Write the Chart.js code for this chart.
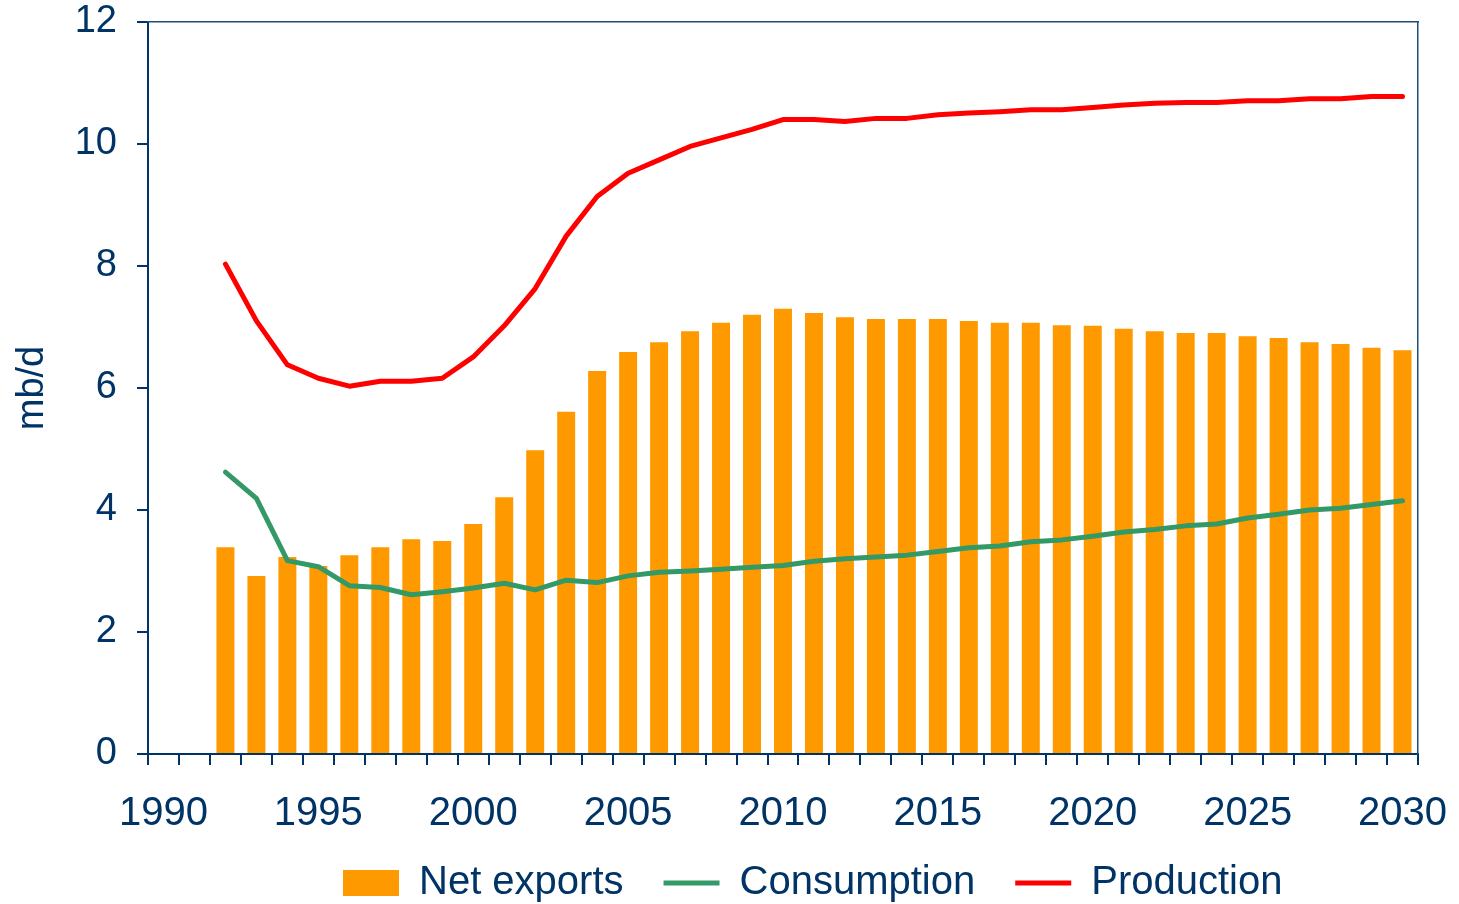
<!DOCTYPE html>
<html>
<head>
<meta charset="utf-8">
<title>Net exports, consumption and production</title>
<script src="https://cdn.jsdelivr.net/npm/chart.js@4.4.1/dist/chart.umd.min.js"></script>
<style>
  html, body { margin: 0; padding: 0; background: #fff; }
  #wrap { width: 1459px; height: 904px; position: relative; }
</style>
</head>
<body>
<div id="wrap"><canvas id="mainChart"></canvas></div>
<script>
// ---- data (mb/d) ----
const years = ['1990','1991','1992','1993','1994','1995','1996','1997','1998','1999',
               '2000','2001','2002','2003','2004','2005','2006','2007','2008','2009',
               '2010','2011','2012','2013','2014','2015','2016','2017','2018','2019',
               '2020','2021','2022','2023','2024','2025','2026','2027','2028','2029','2030'];
const shownYears = ['1990','1995','2000','2005','2010','2015','2020','2025','2030'];
const firstDataYear = '1992';

const netExports = [3.39, 2.92, 3.23, 3.08, 3.26, 3.39, 3.52, 3.49, 3.77, 4.21,
                    4.98, 5.61, 6.28, 6.59, 6.75, 6.93, 7.07, 7.20, 7.30, 7.23,
                    7.16, 7.13, 7.13, 7.13, 7.10, 7.07, 7.07, 7.03, 7.02, 6.97,
                    6.93, 6.90, 6.90, 6.85, 6.82, 6.75, 6.72, 6.66, 6.62];
const consumption = [4.62, 4.19, 3.17, 3.07, 2.76, 2.73, 2.61, 2.66, 2.72, 2.80,
                     2.69, 2.85, 2.81, 2.92, 2.98, 3.00, 3.03, 3.06, 3.09, 3.16,
                     3.20, 3.23, 3.26, 3.32, 3.38, 3.41, 3.48, 3.51, 3.57, 3.64,
                     3.68, 3.74, 3.77, 3.87, 3.93, 4.00, 4.03, 4.09, 4.15];
const production = [8.03, 7.10, 6.38, 6.16, 6.03, 6.11, 6.11, 6.16, 6.51, 7.02,
                    7.63, 8.49, 9.14, 9.52, 9.74, 9.96, 10.10, 10.24, 10.40, 10.40,
                    10.37, 10.42, 10.42, 10.48, 10.51, 10.53, 10.56, 10.56, 10.60, 10.64,
                    10.67, 10.68, 10.68, 10.71, 10.71, 10.74, 10.74, 10.78, 10.78];

const NAVY = '#003366';
const FRAME = '#1f4e79';
const FONT = "'Liberation Sans', Arial, sans-serif";

const start = years.indexOf(firstDataYear);
const series = vals => vals.map((v, i) => ({ x: years[start + i], y: v }));

// move the legend row under the plot like the original
const legendPlace = {
    id: 'legendPlace',
    afterLayout(chart) {
        const lg = chart.legend;
        if (!lg || !lg.lineWidths) return;
        const pad = lg.options.labels.padding;
        const rowStart = (lg.left + pad + lg.right - lg.lineWidths[0]) / 2;
        const dx = chart.chartArea.left + 195 - rowStart;
        const dy = chart.chartArea.bottom + 129 - (lg.top + pad + lg.options.labels.font.size / 2);
        lg.left += dx; lg.right += dx;
        lg.top += dy;
        lg.bottom = chart.height;
        lg.height = lg.bottom - lg.top;
    }
};

const ctx = document.getElementById('mainChart');
new Chart(ctx, {
    type: 'bar',
    data: {
        labels: years,
        datasets: [
            { label: 'Net exports', data: series(netExports), backgroundColor: '#FF9900', borderWidth: 0,
              categoryPercentage: 1, barPercentage: 0.58, order: 3 },
            { type: 'line', label: 'Consumption', data: series(consumption), borderColor: '#339966',
              backgroundColor: '#339966', borderWidth: 5, pointRadius: 0, tension: 0,
              borderCapStyle: 'round', borderJoinStyle: 'round', order: 2 },
            { type: 'line', label: 'Production', data: series(production), borderColor: '#FF0000',
              backgroundColor: '#FF0000', borderWidth: 5, pointRadius: 0, tension: 0,
              borderCapStyle: 'round', borderJoinStyle: 'round', order: 1 }
        ]
    },
    options: {
        responsive: true,
        maintainAspectRatio: false,
        animation: false,
        layout: { padding: { top: 22, right: 41, left: 0, bottom: 0 } },
        plugins: {
            tooltip: { enabled: false },
            legend: {
                position: 'bottom',
                maxHeight: 50,
                labels: {
                    color: NAVY,
                    font: { family: FONT, size: 40 },
                    usePointStyle: true,
                    pointStyleWidth: 56,
                    boxHeight: 26,
                    padding: 40,
                    generateLabels(chart) {
                        const items = Chart.defaults.plugins.legend.labels.generateLabels(chart);
                        items.forEach(it => { it.pointStyle = it.datasetIndex === 0 ? 'rect' : 'line'; });
                        return items.sort((a, b) => a.datasetIndex - b.datasetIndex);
                    }
                }
            }
        },
        scales: {
            x: {
                type: 'category',
                offset: true,
                grid: { offset: true, drawOnChartArea: false, drawTicks: true, tickLength: 11, color: NAVY, lineWidth: 2 },
                border: { color: NAVY, width: 2 },
                ticks: {
                    autoSkip: false, maxRotation: 0, padding: 25, color: NAVY,
                    font: { family: FONT, size: 40 },
                    callback(value) { const y = this.getLabelForValue(value); return shownYears.includes(y) ? y : ''; }
                },
                afterFit(scale) { scale.height = 100; scale.paddingLeft = 0; scale.paddingRight = 0; }
            },
            y: {
                min: 0, max: 12,
                ticks: { stepSize: 2, padding: 20, color: NAVY, font: { family: FONT, size: 38 } },
                grid: { drawOnChartArea: false, drawTicks: true, tickLength: 11, color: NAVY, lineWidth: 2 },
                border: { color: NAVY, width: 2 },
                title: { display: true, text: 'mb/d', color: NAVY, font: { family: FONT, size: 38 }, padding: { top: 10, bottom: 0 } },
                afterFit(scale) { scale.width = 148; scale.paddingTop = 0; scale.paddingBottom = 0; }
            },
            xTop: {
                type: 'linear', position: 'top', display: true,
                ticks: { display: false },
                grid: { drawOnChartArea: false, drawTicks: false },
                border: { color: FRAME, width: 1.5 },
                afterFit(scale) { scale.height = 0; }
            },
            yRight: {
                type: 'linear', position: 'right', display: true,
                ticks: { display: false },
                grid: { drawOnChartArea: false, drawTicks: false },
                border: { color: FRAME, width: 1.5 },
                afterFit(scale) { scale.width = 0; }
            }
        }
    },
    plugins: [legendPlace]
});
</script>
</body>
</html>
